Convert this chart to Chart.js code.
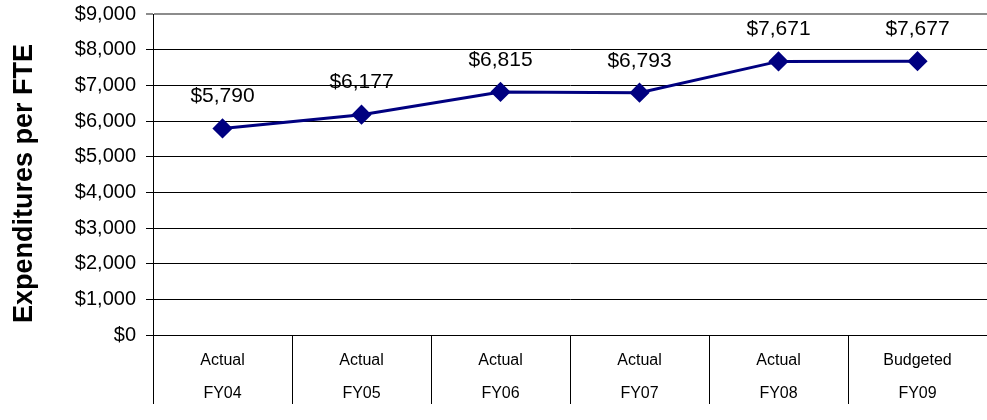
<!DOCTYPE html>
<html>
<head>
<meta charset="utf-8">
<script src="https://cdn.jsdelivr.net/npm/chart.js@4/dist/chart.umd.min.js"></script>
<style>
  html, body { margin: 0; padding: 0; background: #fff; }
  #wrap { width: 987px; height: 420px; }
</style>
</head>
<body>
<div id="wrap"><canvas id="fteChart"></canvas></div>
<script>
// expenditures per FTE by fiscal year
const statusLabels = ["Actual", "Actual", "Actual", "Actual", "Actual", "Budgeted"];
const yearLabels = ["FY04", "FY05", "FY06", "FY07", "FY08", "FY09"];
const spending = [5790, 6177, 6815, 6793, 7671, 7677];
const yTicks = [0, 1000, 2000, 3000, 4000, 5000, 6000, 7000, 8000, 9000];
const yTitle = "Expenditures per FTE";

const navy = "#000080";
const fontFamily = "'Liberation Sans', Arial, sans-serif";

function money(v) {
  return "$" + v.toLocaleString("en-US");
}

// writes the value above each point
const valueLabels = {
  id: "valueLabels",
  afterDatasetsDraw(chart) {
    const ctx = chart.ctx;
    const meta = chart.getDatasetMeta(0);
    ctx.save();
    ctx.font = "21px " + fontFamily;
    ctx.fillStyle = "#000";
    ctx.textAlign = "center";
    ctx.textBaseline = "middle";
    meta.data.forEach((pt, i) => {
      ctx.fillText(money(spending[i]), pt.x, pt.y - 32);
    });
    ctx.restore();
  }
};

// rotated y-axis title, sits a bit below the plot's middle like the original
const sideTitle = {
  id: "sideTitle",
  afterDraw(chart) {
    const ctx = chart.ctx;
    const area = chart.chartArea;
    ctx.save();
    ctx.translate(32, (area.top + area.bottom) / 2 + 9);
    ctx.rotate(-Math.PI / 2);
    ctx.font = "bold 27px " + fontFamily;
    ctx.fillStyle = "#000";
    ctx.textAlign = "center";
    ctx.textBaseline = "alphabetic";
    ctx.fillText(yTitle, 0, 0);
    ctx.restore();
  }
};

new Chart(document.getElementById("fteChart"), {
  type: "line",
  data: {
    labels: statusLabels.map((s, i) => [s, yearLabels[i]]),
    datasets: [{
      data: spending,
      borderColor: navy,
      backgroundColor: navy,
      borderWidth: 3,
      pointStyle: "rectRot",
      pointRadius: 8,
      pointHoverRadius: 8,
      tension: 0
    }]
  },
  options: {
    responsive: true,
    maintainAspectRatio: false,
    animation: false,
    layout: {
      autoPadding: false,
      padding: { top: 14, right: 0, bottom: 0, left: 0 }
    },
    plugins: {
      legend: { display: false },
      tooltip: { enabled: false }
    },
    scales: {
      x: {
        offset: true,
        grid: {
          offset: true,
          drawOnChartArea: false,
          tickLength: 69,
          color: "#000",
          lineWidth: 1
        },
        border: { color: "#000", width: 1 },
        ticks: {
          color: "#000",
          padding: -60,
          maxRotation: 0,
          autoSkip: false,
          font: { family: fontFamily, size: 16, lineHeight: 2.06 }
        },
        afterFit(scale) {
          scale.height = 85;
        }
      },
      y: {
        min: 0,
        max: 9000,
        afterBuildTicks(scale) {
          scale.ticks = yTicks.map(v => ({ value: v }));
        },
        grid: {
          color: ctx => (ctx.tick && ctx.tick.value === 9000) ? "#8c8c8c" : "#000",
          lineWidth: ctx => (ctx.tick && ctx.tick.value === 9000) ? 2 : 1,
          tickLength: 7
        },
        border: { color: "#000", width: 1 },
        ticks: {
          color: "#000",
          padding: 10,
          font: { family: fontFamily, size: 20 },
          callback: v => money(v)
        },
        afterFit(scale) {
          scale.width = 153;
          scale.paddingTop = 0;
          scale.paddingBottom = 0;
        }
      }
    }
  },
  plugins: [valueLabels, sideTitle]
});
</script>
</body>
</html>
